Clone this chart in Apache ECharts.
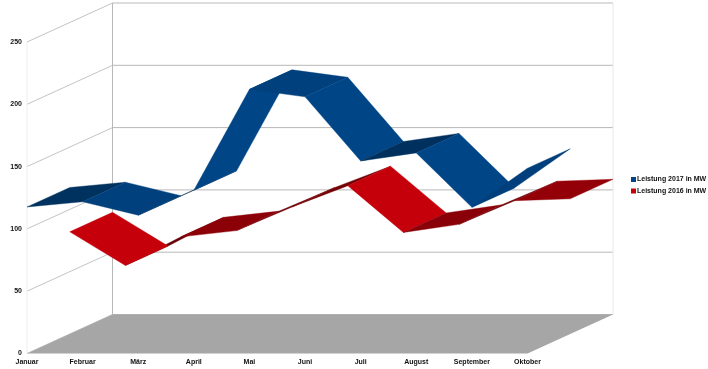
<!DOCTYPE html>
<html>
<head>
<meta charset="utf-8">
<title>Leistung in MW</title>
<style>
  html, body { margin: 0; padding: 0; background: #fff; }
  #chart { width: 708px; height: 369px; }
</style>
<script src="https://cdn.jsdelivr.net/npm/echarts@6/dist/echarts.min.js"></script>
</head>
<body>
<div id="chart"></div>
<script>
var months = ['Januar', 'Februar', 'März', 'April', 'Mai', 'Juni', 'Juli', 'August', 'September', 'Oktober'];
var values2017 = [117.6, 121.8, 111, 131, 212, 206, 154.5, 161, 117.3, 148.7];
var values2016 = [82, 55, 78, 83, 102, 119, 81.5, 88, 107, 108.5];
var yTicks = [0, 50, 100, 150, 200, 250];

// Tiefe der 3D-Ansicht in Pixeln (vorne -> Rückwand)
var DEPTH_X = 85.5;
var DEPTH_Y = -39;
var last = months.length - 1;

var myChart = echarts.init(document.querySelector('#chart'));

// Datenpunkt auf den Bildschirm, depth: 0 = vorne, 1 = Rückwand
function project (api, cat, val, depth) {
  var p = api.coord([cat, val]);
  return [p[0] + DEPTH_X * depth, p[1] + DEPTH_Y * depth];
}

function shade (hex, f) {
  var n = parseInt(hex.slice(1), 16);
  var r = Math.round((n >> 16 & 255) * f);
  var g = Math.round((n >> 8 & 255) * f);
  var b = Math.round((n & 255) * f);
  return 'rgb(' + r + ',' + g + ',' + b + ')';
}

// Steigung des Segments (Pixel hoch / Pixel breit)
function slopeOf (api, i, v0, v1) {
  var a = api.coord([i, v0]);
  var b = api.coord([i + 1, v1]);
  return (a[1] - b[1]) / (b[0] - a[0]);
}

function brightness (slope) {
  if (slope <= -0.5) return 1;
  if (slope < -0.05) return 0.93;
  if (slope < 0.6) return 0.76 - 0.45 * slope;
  if (slope < 1) return 0.92;
  return 1;
}

function ribbonData (values) {
  var rows = [];
  for (var i = 0; i < values.length - 1; i++) {
    rows.push([i, values[i], values[i + 1]]);
  }
  return rows;
}

function ribbonSeries (name, color, values, d0, d1) {
  return {
    name: name,
    type: 'custom',
    itemStyle: { color: color },
    encode: { x: 0, y: 1 },
    data: ribbonData(values),
    renderItem: function (params, api) {
      var i = api.value(0);
      var v0 = api.value(1);
      var v1 = api.value(2);
      var slope = slopeOf(api, i, v0, v1);
      var fill = shade(color, brightness(slope));
      return {
        type: 'polygon',
        // fast von der Kante gesehene Segmente liegen unter den Nachbarn
        z2: slope > 0.3 && slope < 0.6 ? 0 : 1,
        shape: {
          points: [
            project(api, i, v0, d0),
            project(api, i, v0, d1),
            project(api, i + 1, v1, d1),
            project(api, i + 1, v1, d0)
          ]
        },
        style: { fill: fill, stroke: fill, lineWidth: 0.4 }
      };
    }
  };
}

function line (a, b, color) {
  return {
    type: 'line',
    shape: { x1: a[0], y1: a[1], x2: b[0], y2: b[1] },
    style: { stroke: color, lineWidth: 1 }
  };
}

option = {
  animation: false,
  backgroundColor: '#ffffff',
  legend: {
    left: 626,
    top: 171,
    orient: 'vertical',
    itemWidth: 5,
    itemHeight: 5,
    itemGap: 4.5,
    icon: 'rect',
    selectedMode: false,
    data: ['Leistung 2017 in MW', 'Leistung 2016 in MW'],
    textStyle: {
      fontFamily: 'Liberation Sans',
      fontWeight: 'bold',
      fontSize: 7,
      color: '#111111',
      padding: [0, 0, 0, -4]
    }
  },
  grid: {
    left: 27,
    top: 42,
    width: 500.5,
    height: 311.5
  },
  xAxis: {
    type: 'category',
    boundaryGap: false,
    data: months,
    axisLine: { show: false },
    axisTick: { show: false },
    splitLine: { show: false },
    axisLabel: {
      interval: 0,
      margin: 5,
      fontFamily: 'Liberation Sans',
      fontWeight: 'bold',
      fontSize: 7,
      color: '#111111'
    }
  },
  yAxis: {
    type: 'value',
    min: 0,
    max: 250,
    interval: 50,
    axisLine: { show: false },
    axisTick: { show: false },
    splitLine: { show: false },
    axisLabel: {
      margin: 5,
      padding: [2, 0, 0, 0],
      fontFamily: 'Liberation Sans',
      fontWeight: 'bold',
      fontSize: 7,
      color: '#111111'
    }
  },
  series: [
    // Gitterlinien an Rück- und Seitenwand
    {
      type: 'custom',
      silent: true,
      data: yTicks,
      encode: { y: 0 },
      renderItem: function (params, api) {
        var v = api.value(0);
        return {
          type: 'group',
          children: [
            line(project(api, 0, v, 1), project(api, last, v, 1), '#b8b8b8'),
            line(project(api, 0, v, 0), project(api, 0, v, 1), '#c4c4c4')
          ]
        };
      }
    },
    // Senkrechte Kanten und Boden
    {
      type: 'custom',
      silent: true,
      data: [0],
      encode: { y: 0 },
      renderItem: function (params, api) {
        var top = yTicks[yTicks.length - 1];
        return {
          type: 'group',
          children: [
            line(project(api, 0, 0, 0), project(api, 0, top, 0), '#ededed'),
            line(project(api, 0, 0, 1), project(api, 0, top, 1), '#b8b8b8'),
            line(project(api, last, 0, 1), project(api, last, top, 1), '#e8e8e8'),
            {
              type: 'polygon',
              shape: {
                points: [
                  project(api, 0, 0, 0),
                  project(api, 0, 0, 1),
                  project(api, last, 0, 1),
                  project(api, last, 0, 0)
                ]
              },
              style: { fill: '#a6a6a6' }
            }
          ]
        };
      }
    },
    ribbonSeries('Leistung 2016 in MW', '#c5000b', values2016, 0.5, 1),
    ribbonSeries('Leistung 2017 in MW', '#004586', values2017, 0, 0.5)
  ]
};

myChart.setOption(option);
window.addEventListener('resize', function () {
  myChart.resize();
});
</script>
</body>
</html>
